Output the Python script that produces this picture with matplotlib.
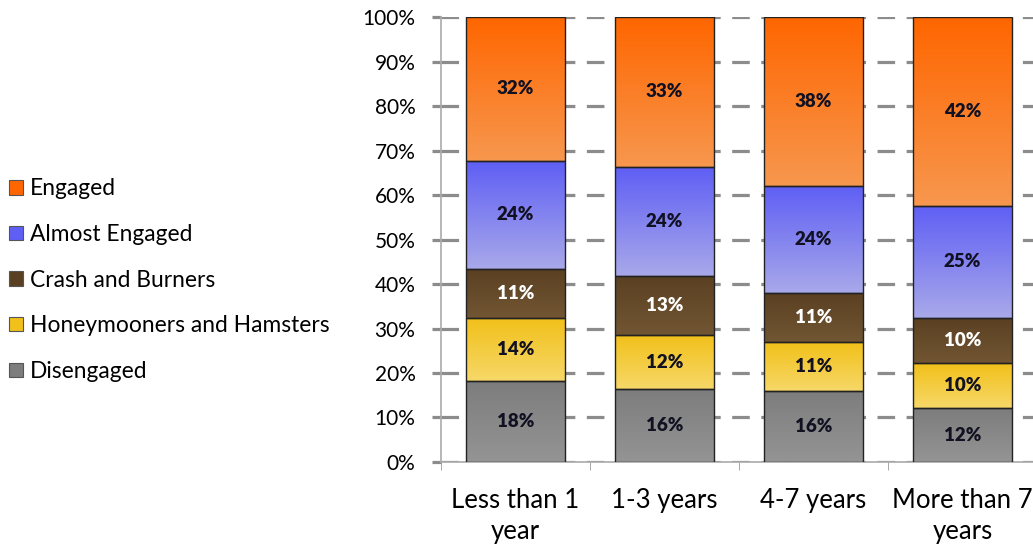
import numpy as np
import matplotlib
matplotlib.use("Agg")
import matplotlib.pyplot as plt
from matplotlib.patches import Patch
from matplotlib.colors import to_rgb

plt.rcParams['font.family'] = ['Lato', 'DejaVu Sans']

# ======================
# data
# ======================
categories = ["Less than 1\nyear", "1-3 years", "4-7 years", "More than 7\nyears"]
series = ["Disengaged", "Honeymooners and Hamsters", "Crash and Burners",
          "Almost Engaged", "Engaged"]
disengaged = [18, 16, 16, 12]
honeymooners = [14, 12, 11, 10]
crash = [11, 13, 11, 10]
almost = [24, 24, 24, 25]
engaged = [32, 33, 38, 42]

values = np.array([disengaged, honeymooners, crash, almost, engaged], dtype=float)
shares = values / values.sum(axis=0) * 100  # bars fill to 100%

# gradient top -> bottom
grad = {
    "Disengaged": ("#7d7d7d", "#949494"),
    "Honeymooners and Hamsters": ("#f1c01a", "#f7d868"),
    "Crash and Burners": ("#5a4022", "#725633"),
    "Almost Engaged": ("#5f5ff5", "#a8a8ea"),
    "Engaged": ("#ff6600", "#f7974e"),
}
text_col = {
    "Disengaged": "#111122",
    "Honeymooners and Hamsters": "#111122",
    "Crash and Burners": "white",
    "Almost Engaged": "#111122",
    "Engaged": "#111122",
}

# ======================
# figure
# ======================
fig = plt.figure(figsize=(10.33, 5.47), dpi=100)
ax = fig.add_axes([0.427, 0.1554, 0.577, 0.8135])

x = np.arange(len(categories))
width = 0.66
bottom = np.zeros(len(categories))

for i, name in enumerate(series):
    bars = ax.bar(x, shares[i], width, bottom=bottom, facecolor="none",
                  edgecolor="#222222", linewidth=1.0, zorder=4)
    top_c, bot_c = np.array(to_rgb(grad[name][0])), np.array(to_rgb(grad[name][1]))
    t = np.linspace(0, 1, 64)[:, None]
    img = (top_c[None, :] * (1 - t) + bot_c[None, :] * t)[:, None, :]
    for j, b in enumerate(bars):
        x0, y0 = b.get_x(), b.get_y()
        ax.imshow(img, extent=(x0, x0 + b.get_width(), y0, y0 + b.get_height()),
                  aspect="auto", zorder=3, interpolation="bilinear")
        ax.text(b.get_x() + b.get_width() / 2, y0 + b.get_height() / 2,
                f"{values[i, j]:.0f}%", ha="center", va="center",
                fontsize=13.5, fontweight="heavy", color=text_col[name], zorder=5)
    bottom += shares[i]

ax.set_xlim(-0.5, len(categories) - 0.5)
ax.set_ylim(0, 100)

# grid
ax.set_yticks(np.arange(0, 101, 10))
ax.set_yticklabels([f"{v}%" for v in range(0, 101, 10)], fontsize=15)
ax.yaxis.grid(True, color="#8c8c8c", linewidth=2.3, linestyle=(0, (5.5, 3.6)), zorder=1)
ax.set_axisbelow(True)

ax.set_xticks(x)
ax.set_xticklabels(categories, fontsize=18.5, linespacing=1.3)
ax.set_xticks(np.arange(-0.5, len(categories), 1), minor=True)
ax.tick_params(axis="x", which="major", length=0, pad=19)
ax.tick_params(axis="x", which="minor", length=6, color="#999999")
ax.tick_params(axis="y", length=6.5, width=2.3, color="#8c8c8c", pad=12)

for s in ["top", "right"]:
    ax.spines[s].set_visible(False)
for s in ["left", "bottom"]:
    ax.spines[s].set_color("#aaaaaa")
    ax.spines[s].set_linewidth(1.2)

# legend
handles = [Patch(facecolor=grad[n][0], edgecolor="#555555", linewidth=0.8)
           for n in reversed(series)]
fig.legend(handles, list(reversed(series)), loc="center left",
           bbox_to_anchor=(0.0, 0.488), frameon=False, fontsize=16.4,
           handlelength=0.6, handleheight=0.6, handletextpad=0.3,
           labelspacing=1.08, borderaxespad=0.0)

plt.savefig("out.png", dpi=100)
